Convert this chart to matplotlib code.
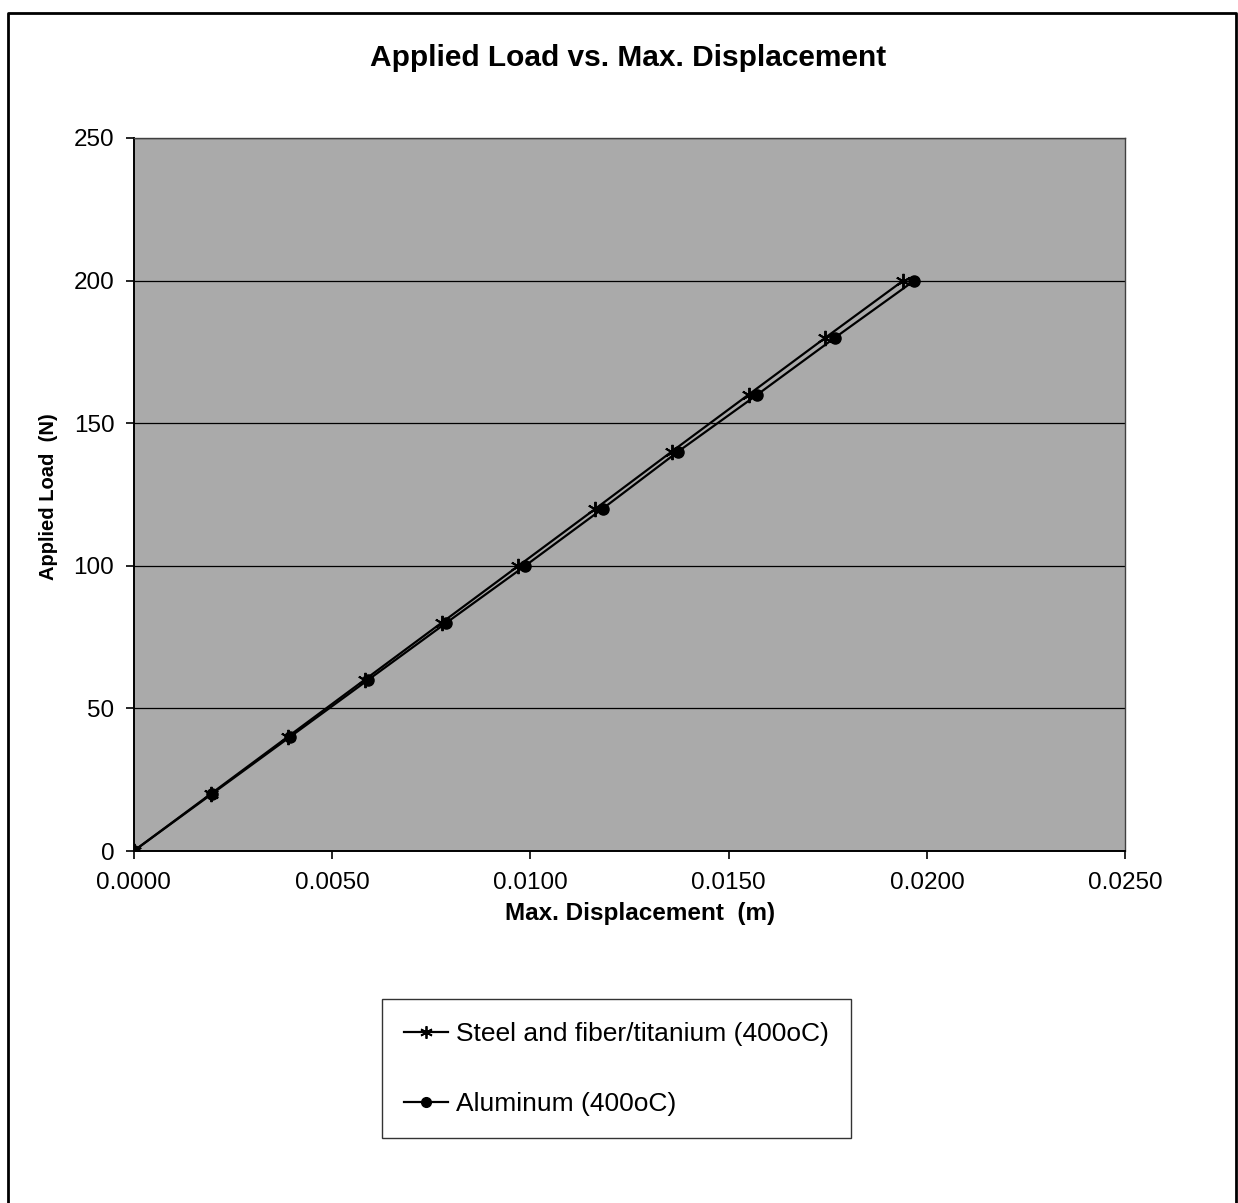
import matplotlib.pyplot as plt
import numpy as np
from matplotlib.lines import Line2D

plt.rcParams['font.family'] = ['Liberation Sans', 'DejaVu Sans']

# applied load steps (N)
load = [0, 20, 40, 60, 80, 100, 120, 140, 160, 180, 200]

# max displacement (m) for each material
disp_steel = [0.0, 0.00194, 0.00388, 0.00582, 0.00776, 0.00970,
              0.01164, 0.01356, 0.01550, 0.01744, 0.01940]
disp_alum = [0.0, 0.00197, 0.00394, 0.00591, 0.00788, 0.00987,
             0.01182, 0.01372, 0.01572, 0.01768, 0.01968]

label_steel = 'Steel and fiber/titanium (400oC)'
label_alum = 'Aluminum (400oC)'

fig = plt.figure(figsize=(12.38, 12.03), dpi=100)
ax = fig.add_axes([0.108, 0.2926, 0.801, 0.5927])
ax.set_facecolor('#aaaaaa')

star = (6, 2, 0)
ax.plot(disp_steel, load, color='black', lw=1.6, marker=star, ms=11,
        mew=1.4, label=label_steel, zorder=3)
ax.plot(disp_alum, load, color='black', lw=1.6, marker='o', ms=8,
        label=label_alum, zorder=3)

ax.set_xlim(0, 0.025)
ax.set_ylim(0, 250)
ax.set_xticks(np.arange(0, 0.0251, 0.005))
ax.set_yticks(np.arange(0, 251, 50))
ax.xaxis.set_major_formatter(plt.FormatStrFormatter('%.4f'))

# horizontal gridlines only
ax.yaxis.grid(True, color='black', lw=0.9)
ax.set_axisbelow(True)

ax.tick_params(axis='both', labelsize=17.5, direction='out', length=6,
               width=1.2, color='black')
ax.tick_params(axis='x', pad=9)
ax.tick_params(axis='y', pad=8)

for side in ['top', 'right']:
    ax.spines[side].set_color('#404040')
    ax.spines[side].set_linewidth(1.0)
for side in ['left', 'bottom']:
    ax.spines[side].set_color('black')
    ax.spines[side].set_linewidth(1.4)

fig.text(0.507, 0.952, 'Applied Load vs. Max. Displacement', ha='center',
         va='center', fontsize=21.5, fontweight='bold')
fig.text(0.517, 0.241, 'Max. Displacement  (m)', ha='center', va='center',
         fontsize=17.5, fontweight='bold')
fig.text(0.039, 0.587, 'Applied Load  (N)', ha='center', va='center',
         rotation=90, fontsize=14.5, fontweight='bold')

handles = [
    Line2D([], [], color='black', lw=1.6, marker=star, ms=9, mew=1.3),
    Line2D([], [], color='black', lw=1.6, marker='o', ms=7),
]
leg = fig.legend(handles, [label_steel, label_alum], loc='center',
                 bbox_to_anchor=(0.498, 0.1115), fontsize=19,
                 frameon=True, fancybox=False, shadow=False,
                 handlelength=1.65, handletextpad=0.3, labelspacing=1.75,
                 borderpad=0.85, borderaxespad=0)
leg.get_frame().set_edgecolor('black')
leg.get_frame().set_linewidth(1.0)

# chart area border
x0, x1, y1 = 8 / 1238, 1236 / 1238, 1 - 13 / 1203
fig.add_artist(Line2D([x0, x0, x1, x1], [-0.01, y1, y1, -0.01],
                      transform=fig.transFigure, color='black', lw=2))

fig.savefig('out.png', dpi=100)
